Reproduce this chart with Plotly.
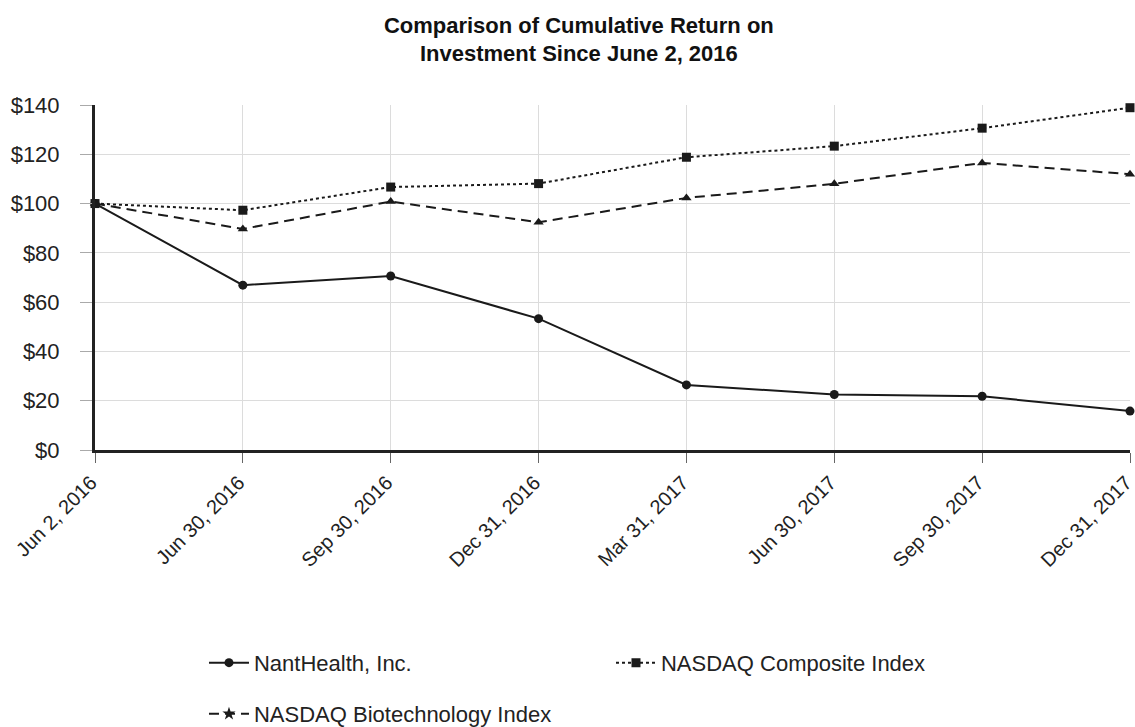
import plotly.graph_objects as go

dates = ["Jun 2, 2016", "Jun 30, 2016", "Sep 30, 2016", "Dec 31, 2016",
         "Mar 31, 2017", "Jun 30, 2017", "Sep 30, 2017", "Dec 31, 2017"]
nanthealth = [100, 66.9, 70.6, 53.3, 26.4, 22.5, 21.8, 15.8]
nasdaq_composite = [100, 97.3, 106.7, 108.1, 118.8, 123.3, 130.6, 138.9]
nasdaq_biotech = [100, 89.7, 100.8, 92.4, 102.3, 108.0, 116.5, 111.9]
y_ticks = [0, 20, 40, 60, 80, 100, 120, 140]
y_labels = ["$" + str(v) for v in y_ticks]

FONT = "Liberation Sans, Arial, sans-serif"
INK = "#1a1a1a"

fig = go.Figure()
fig.add_trace(go.Scatter(x=dates, y=nanthealth, name="NantHealth, Inc.", mode="lines+markers",
                         line=dict(color=INK, width=2), marker=dict(symbol="circle", size=9, color=INK),
                         cliponaxis=False, legend="legend"))
fig.add_trace(go.Scatter(x=dates, y=nasdaq_composite, name="NASDAQ Composite Index", mode="lines+markers",
                         line=dict(color=INK, width=2, dash="dot"), marker=dict(symbol="square", size=9, color=INK),
                         cliponaxis=False, legend="legend"))
fig.add_trace(go.Scatter(x=dates, y=nasdaq_biotech, name="NASDAQ Biotechnology Index", mode="lines+markers",
                         line=dict(color=INK, width=2, dash="10px,6px"),
                         marker=dict(symbol="triangle-up", size=9, color=INK),
                         cliponaxis=False, showlegend=False))
# legend-only entry (star symbol as in the original legend)
fig.add_trace(go.Scatter(x=[None], y=[None], name="NASDAQ Biotechnology Index", mode="lines+markers",
                         line=dict(color=INK, width=2, dash="10px,6px"),
                         marker=dict(symbol="star", size=10, color=INK),
                         legend="legend2"))

fig.update_layout(
    width=1135, height=727,
    margin=dict(l=95, r=5, t=105, b=277, autoexpand=False),
    paper_bgcolor="white", plot_bgcolor="white",
    font=dict(family=FONT, color="#222", size=22),
    title=dict(text="<b>Comparison of Cumulative Return on<br>Investment Since June 2, 2016</b>",
               x=0.51, xanchor="center", y=0.955, yanchor="top",
               font=dict(family=FONT, size=22, color="#111")),
    legend=dict(orientation="h", x=0.1053, xanchor="left", y=-0.617, yanchor="middle",
                entrywidth=352, entrywidthmode="pixels", itemwidth=40,
                font=dict(size=22, color="#222"), bgcolor="rgba(0,0,0,0)"),
    legend2=dict(orientation="h", x=0.1053, xanchor="left", y=-0.765, yanchor="middle",
                 itemwidth=40, font=dict(size=22, color="#222"), bgcolor="rgba(0,0,0,0)"),
)
fig.update_xaxes(type="category", range=[0, 7], showgrid=True, gridcolor="#dcdcdc", gridwidth=1,
                 showline=True, linecolor="#222", linewidth=3, ticks="outside", ticklen=10,
                 tickcolor="#666", tickangle=-45, ticklabelshift=-4,
                 tickfont=dict(size=20, color="#222"), zeroline=False)
fig.update_yaxes(range=[0, 140], tickvals=y_ticks, ticktext=y_labels, showgrid=True, gridcolor="#dcdcdc",
                 gridwidth=1, showline=True, linecolor="#222", linewidth=3, ticks="outside", ticklen=12,
                 tickcolor="#aaa", ticklabelstandoff=16, tickfont=dict(size=22, color="#222"), zeroline=False)

fig.write_html("out.html", post_script="document.body.style.margin='0';",
               config={"displayModeBar": False})
